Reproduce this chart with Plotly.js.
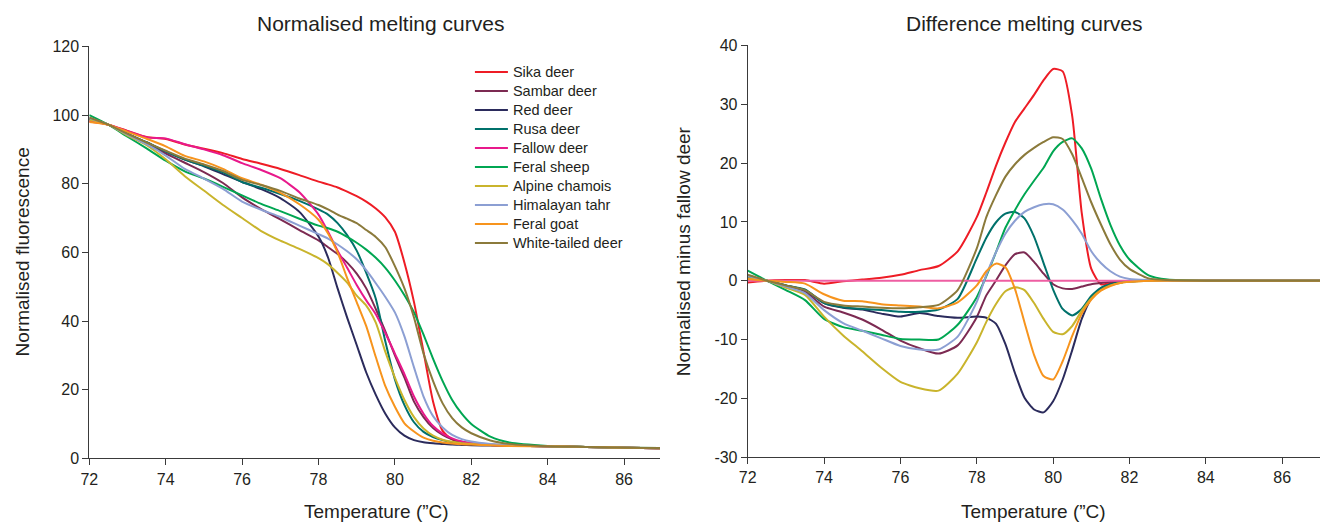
<!DOCTYPE html>
<html>
<head>
<meta charset="utf-8">
<script src="https://cdn.plot.ly/plotly-3.0.1.min.js"></script>
<style>
  html, body { margin: 0; padding: 0; background: #ffffff; }
  #chart { width: 1320px; height: 524px; }
</style>
</head>
<body>
<div id="chart"></div>
<script>
// ---------- data ----------
const temperature = [72, 72.5, 73, 73.5, 74, 74.5, 75, 75.5, 76, 76.5, 77, 77.5,
  78, 78.25, 78.5, 78.75, 79, 79.25, 79.5, 79.75,
  80, 80.25, 80.5, 80.75, 81, 81.25, 81.5, 81.75,
  82, 82.5, 83, 84, 85, 86, 87];

const species = ["Sika deer", "Sambar deer", "Red deer", "Rusa deer", "Fallow deer",
  "Feral sheep", "Alpine chamois", "Himalayan tahr", "Feral goat", "White-tailed deer"];

// Normalised melting curves (left panel)
const normSika     = [98.1, 97.2, 95.4, 93.6, 93.0, 91.4, 90.2, 88.9, 87.2, 85.8, 84.3, 82.5, 80.6, 79.8, 78.9, 77.7, 76.4, 74.8, 72.8, 70.2, 66, 57, 45.5, 31, 16.5, 8, 5.5, 4.6, 4.2, 3.9, 3.7, 3.5, 3.3, 3.1, 2.9];
const normSambar   = [98.9, 97.2, 94.4, 91.7, 88.8, 86.1, 83.4, 80.2, 76, 72.6, 69.6, 66.5, 63.5, 61.5, 59.5, 57, 53.8, 49.5, 43.5, 37, 30, 23.5, 16.5, 12, 8.8, 6.8, 5.5, 4.8, 4.4, 4.0, 3.7, 3.5, 3.3, 3.1, 2.9];
const normRed      = [99, 97.2, 94.5, 92, 89.4, 87, 85.1, 82.8, 80.5, 78.4, 75.8, 71.8, 64.6, 58.5, 49.5, 41, 33, 25, 18.5, 13, 9, 6.6, 5.3, 4.7, 4.4, 4.2, 4.0, 3.9, 3.8, 3.7, 3.6, 3.5, 3.3, 3.1, 2.9];
const normRusa     = [98.8, 97.2, 94.5, 92.1, 89.4, 87, 85.2, 83.3, 80.5, 78.8, 77, 75, 72.5, 71, 68.5, 65, 60.5, 54, 46.5, 34, 23, 15.5, 10.5, 7.7, 6.2, 5.3, 4.7, 4.4, 4.2, 3.9, 3.7, 3.5, 3.3, 3.1, 2.9];
const normFallow   = [98.3, 97.2, 95.3, 93.5, 93.2, 91.5, 90.0, 88.3, 86.0, 84.0, 81.6, 77.5, 71, 66, 60.5, 55.5, 50.5, 46, 42, 36.5, 30.5, 24.5, 18, 13, 9.4, 7.2, 5.8, 4.9, 4.4, 3.9, 3.7, 3.5, 3.3, 3.1, 2.9];
const normSheep    = [100, 97.2, 93.7, 90.3, 86.7, 83.6, 81.5, 79.1, 76.6, 74.1, 72, 69.8, 67.8, 67, 66, 64.5, 62.8, 60.8, 58.4, 55.5, 51.8, 47.5, 42.5, 36, 29, 22.5, 17, 13, 10, 6.3, 4.6, 3.6, 3.3, 3.1, 3.0];
const normChamois  = [98.7, 97.2, 94, 91.2, 87.1, 82.2, 78, 73.8, 70, 66.2, 63.4, 61, 58.3, 56.5, 54, 51.2, 47.4, 44.5, 39.5, 31, 23.5, 17, 12, 8.7, 6.6, 5.4, 4.8, 4.4, 4.2, 3.9, 3.7, 3.5, 3.3, 3.1, 2.9];
const normTahr     = [99.1, 97.2, 94.3, 91.5, 88.2, 84.3, 81.5, 78.5, 74.8, 72.4, 70.3, 67.8, 65.3, 64, 62.3, 60.3, 58, 54.8, 51, 47, 42.5, 35.5, 26.5, 18, 12.3, 9, 6.8, 5.6, 4.9, 4.2, 3.8, 3.5, 3.3, 3.1, 2.9];
const normGoat     = [98, 97.2, 95.1, 93.1, 90.9, 88.1, 86.5, 84.3, 81.6, 79.7, 77.3, 74, 69.5, 65.5, 60, 52.5, 45.5, 38.5, 29.5, 21, 15, 10.2, 7.8, 6.0, 5.1, 4.6, 4.3, 4.1, 4.0, 3.8, 3.6, 3.5, 3.3, 3.1, 2.9];
const normWhiteTail= [99.3, 97.2, 94.5, 92, 89.6, 87.3, 85.6, 83.7, 81.1, 79.6, 77.9, 75.7, 73.8, 72.5, 71, 69.8, 68.5, 66.5, 64.5, 61.5, 56, 49.5, 41, 30.5, 22.5, 16, 11.7, 9, 7.3, 5.2, 4.2, 3.5, 3.3, 3.1, 3.0];

// Difference melting curves (right panel)
const diffSika     = [-0.3, 0, 0.1, 0.1, -0.5, -0.1, 0.2, 0.5, 1.0, 1.8, 2.5, 5.0, 10.8, 15, 19.5, 23.5, 27, 29.3, 31.6, 34.1, 36, 35.6, 28, 11.5, 2, -0.6, -0.4, -0.2, -0.1, 0, 0, 0, 0, 0, 0];
const diffSambar   = [0.6, 0, -0.9, -1.9, -4.4, -5.4, -6.6, -8.3, -10.2, -11.5, -12.4, -11, -6.2, -2.5, 0, 2.6, 4.5, 4.8, 3.2, 1.2, -0.6, -1.3, -1.4, -1.0, -0.6, -0.4, -0.2, -0.1, -0.1, 0, 0, 0, 0, 0, 0];
const diffRed      = [0.7, 0, -0.8, -1.6, -3.8, -4.6, -4.9, -5.6, -6.1, -5.5, -6.0, -6.3, -6.1, -6.3, -7.3, -10.8, -15.7, -19.9, -21.9, -22.4, -20.5, -16.8, -11.8, -6.5, -3.0, -1.4, -0.6, -0.3, -0.1, 0, 0, 0, 0, 0, 0];
const diffRusa     = [0.5, 0, -0.8, -1.5, -3.8, -4.5, -4.8, -5.0, -5.3, -5.3, -4.9, -3.1, 3.8, 7.3, 9.9, 11.4, 11.7, 10.6, 7.5, 3.0, -1.5, -4.8, -5.9, -4.8, -2.6, -1.2, -0.6, -0.3, -0.1, 0, 0, 0, 0, 0, 0];
const diffFallow   = [0, 0, 0, 0, 0, 0, 0, 0, 0, 0, 0, 0, 0, 0, 0, 0, 0, 0, 0, 0, 0, 0, 0, 0, 0, 0, 0, 0, 0, 0, 0, 0, 0, 0, 0];
const diffSheep    = [1.7, 0, -1.6, -3.3, -6.5, -7.9, -8.5, -9.2, -9.9, -10, -10, -7.5, -2.8, 0.8, 4.8, 9.0, 12, 14.7, 17, 19.2, 22, 23.6, 24.2, 22.5, 19, 14, 9.5, 6, 3.6, 0.9, 0.2, 0, 0, 0, 0];
const diffChamois  = [0.4, 0, -1.2, -2.4, -6.1, -9.3, -12, -14.8, -17.2, -18.3, -18.7, -15.8, -10.5, -7, -4, -1.8, -1.1, -1.6, -3.8, -6.5, -8.7, -9.1, -7.7, -5.1, -3.0, -1.6, -0.8, -0.4, -0.2, 0, 0, 0, 0, 0, 0];
const diffTahr     = [0.8, 0, -1.0, -2.1, -5.0, -7.2, -8.5, -9.8, -11.1, -11.7, -11.7, -9.5, -3.6, 1.0, 4.8, 8, 10.2, 11.7, 12.5, 13, 13, 12.1, 10.3, 8, 5, 3, 1.6, 0.7, 0.3, 0.1, 0, 0, 0, 0, 0];
const diffGoat     = [0.3, 0, -0.2, -0.5, -2.3, -3.4, -3.5, -4.0, -4.2, -4.4, -4.7, -3.7, -0.8, 1.6, 2.9, 2.3, -1.4, -7.1, -12.6, -16.2, -16.8, -13.7, -9.4, -5.6, -3.2, -1.7, -0.9, -0.4, -0.2, 0, 0, 0, 0, 0, 0];
const diffWhiteTail= [1.0, 0, -0.8, -1.6, -3.6, -4.2, -4.4, -4.6, -4.7, -4.5, -4.1, -1.6, 5.5, 10.8, 14.5, 17.7, 19.8, 21.4, 22.6, 23.6, 24.4, 24.1, 21.5, 17.5, 13.3, 9.6, 6.2, 3.6, 2.0, 0.4, 0.1, 0, 0, 0, 0];

const xTicks = [72, 74, 76, 78, 80, 82, 84, 86];
const yTicksNorm = [0, 20, 40, 60, 80, 100, 120];
const yTicksDiff = [-30, -20, -10, 0, 10, 20, 30, 40];
const yTickTextDiff = ["-30", "-20", "-10", "0", "10", "20", "30", "40"];

const normSeries = [normSika, normSambar, normRed, normRusa, normFallow, normSheep, normChamois, normTahr, normGoat, normWhiteTail];
const diffSeries = [diffSika, diffSambar, diffRed, diffRusa, diffFallow, diffSheep, diffChamois, diffTahr, diffGoat, diffWhiteTail];

// ---------- styles ----------
const colours = ["#ee1c25", "#7c2a52", "#2b2b5c", "#00716b", "#e8198b", "#00a652", "#c9b42c", "#8c9fd3", "#f7941d", "#8b7a3b"];
const diffColours = ["#ee1c25", "#7c2a52", "#2b2b5c", "#00716b", "#ee5ea2", "#00a652", "#c9b42c", "#8c9fd3", "#f7941d", "#8b7a3b"];
const FONT = "'Liberation Sans', Arial, Helvetica, sans-serif";
const TXT = "#231f20";
const AX = "#3a3a3a";

const traces = [];
species.forEach((name, i) => {
  traces.push({
    type: "scatter", mode: "lines", name: name,
    x: temperature, y: normSeries[i], xaxis: "x", yaxis: "y",
    line: { color: colours[i], width: 2, shape: "spline", smoothing: 0.6 },
    legendgroup: name, showlegend: true, hoverinfo: "skip"
  });
});
species.forEach((name, i) => {
  traces.push({
    type: "scatter", mode: "lines", name: name,
    x: temperature, y: diffSeries[i], xaxis: "x2", yaxis: "y2",
    line: { color: diffColours[i], width: 2, shape: "spline", smoothing: 0.6 },
    legendgroup: name, showlegend: false, hoverinfo: "skip"
  });
});

const axisCommon = {
  showline: true, linecolor: AX, linewidth: 1,
  ticks: "outside", ticklen: 6, tickwidth: 1, tickcolor: AX,
  showgrid: false, zeroline: false,
  tickfont: { family: FONT, size: 16, color: TXT }
};

const layout = {
  width: 1320, height: 524,
  margin: { l: 0, r: 0, t: 0, b: 0 },
  paper_bgcolor: "#ffffff", plot_bgcolor: "#ffffff",
  font: { family: FONT, size: 16, color: TXT },
  showlegend: true,
  legend: {
    x: 0.356, xanchor: "left", y: 0.8904, yanchor: "top",
    bgcolor: "rgba(0,0,0,0)", borderwidth: 0,
    font: { family: FONT, size: 12, color: TXT },
    itemwidth: 33, tracegroupgap: 0, itemclick: false, itemdoubleclick: false
  },
  xaxis: Object.assign({}, axisCommon, {
    domain: [0.06765, 0.5], range: [72, 86.94], tickvals: xTicks, anchor: "y"
  }),
  yaxis: Object.assign({}, axisCommon, {
    domain: [0.12538, 0.91145], range: [0, 120], tickvals: yTicksNorm, anchor: "x"
  }),
  xaxis2: Object.assign({}, axisCommon, {
    domain: [0.56644, 1], range: [72, 86.99], tickvals: xTicks, anchor: "y2"
  }),
  yaxis2: Object.assign({}, axisCommon, {
    domain: [0.12767, 0.91317], range: [-30, 40], tickvals: yTicksDiff, ticktext: yTickTextDiff, anchor: "x2"
  }),
  annotations: [
    { text: "Normalised melting curves", xref: "paper", yref: "paper", x: 380 / 1320, y: (524 - 23.7) / 524,
      xanchor: "center", yanchor: "middle", showarrow: false, font: { family: FONT, size: 21, color: TXT } },
    { text: "Difference melting curves", xref: "paper", yref: "paper", x: 1024.7 / 1320, y: (524 - 23.7) / 524,
      xanchor: "center", yanchor: "middle", showarrow: false, font: { family: FONT, size: 21, color: TXT } },
    { text: "Normalised fluorescence", xref: "paper", yref: "paper", x: 22 / 1320, y: (524 - 252.4) / 524,
      xanchor: "center", yanchor: "middle", textangle: -90, showarrow: false, font: { family: FONT, size: 19, color: TXT } },
    { text: "Normalised minus fallow deer", xref: "paper", yref: "paper", x: 683 / 1320, y: (524 - 251.3) / 524,
      xanchor: "center", yanchor: "middle", textangle: -90, showarrow: false, font: { family: FONT, size: 19, color: TXT } },
    { text: "Temperature (\u201DC)", xref: "paper", yref: "paper", x: 376 / 1320, y: (524 - 511.5) / 524,
      xanchor: "center", yanchor: "middle", showarrow: false, font: { family: FONT, size: 19, color: TXT } },
    { text: "Temperature (\u201DC)", xref: "paper", yref: "paper", x: 1033 / 1320, y: (524 - 511.5) / 524,
      xanchor: "center", yanchor: "middle", showarrow: false, font: { family: FONT, size: 19, color: TXT } }
  ]
};

Plotly.newPlot("chart", traces, layout, { displayModeBar: false, staticPlot: true }).then(function () {
  // legend rows keep the compact spacing of the reference while the labels are drawn larger
  document.querySelectorAll("#chart .legend [clip-path]").forEach(function (el) {
    el.removeAttribute("clip-path");
  });
  document.querySelectorAll("#chart .legendtext").forEach(function (t) {
    t.style.fontSize = "14.5px";
  });
});
</script>
</body>
</html>
